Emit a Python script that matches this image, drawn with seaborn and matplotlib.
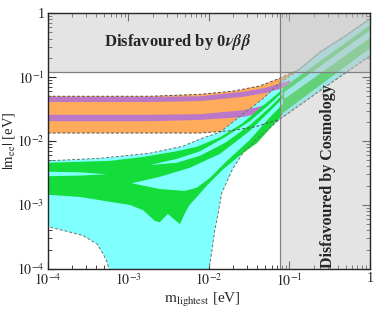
import numpy as np
import matplotlib
matplotlib.use("Agg")
import matplotlib.pyplot as plt
import seaborn as sns

# all region boundaries are log10 values
# x = log10(m_lightest / eV), y = log10(|m_ee| / eV)
cosmo_bound = 0.077
dbd_bound = 0.12

# normal ordering, 3 sigma (cyan)
no_up_x = [-4.0, -3.35, -2.73, -2.32, -2.11, -1.86, -1.64, -1.33, -1.12, -0.87, -0.62, -0.31, 0.0]
no_up_y = [-2.31, -2.27, -2.19, -2.08, -1.97, -1.86, -1.64, -1.34, -1.09, -0.875, -0.61, -0.36, -0.09]
no_lo_right_x = [0.0, -0.56, -1.12, -1.39, -1.58, -1.71, -1.84, -1.89, -1.93, -1.96, -2.0, -2.0]
no_lo_right_y = [-0.67, -1.16, -1.66, -1.95, -2.19, -2.45, -2.81, -3.16, -3.42, -3.70, -4.0, -4.5]
no_lo_left_x = [-3.24, -3.24, -3.27, -3.32, -3.39, -3.56, -3.77, -4.0]
no_lo_left_y = [-4.5, -4.0, -3.875, -3.75, -3.61, -3.48, -3.41, -3.34]

# inverted ordering, 3 sigma (orange)
io_up_x = [-4.0, -2.73, -2.11, -1.70, -1.37, -1.12, -0.87, -0.62, -0.31, 0.0]
io_up_y = [-1.30, -1.30, -1.27, -1.22, -1.14, -1.02, -0.875, -0.61, -0.36, -0.09]
io_lo_x = [-4.0, -2.11, -1.74, -1.43, -1.12, -0.56, 0.0]
io_lo_y = [-1.875, -1.875, -1.84, -1.78, -1.66, -1.16, -0.67]

# inverted ordering, purple bands
pb_x = [-4.0, -2.73, -2.11, -1.58, -1.30, -0.99]
pb1_top = [-1.31, -1.31, -1.30, -1.23, -1.17, -1.05]
pb1_bot = [-1.39, -1.39, -1.375, -1.31, -1.25, -1.14]
pb2_top = [-1.59, -1.59, -1.58, -1.52, -1.44, -1.30]
pb2_bot = [-1.69, -1.69, -1.67, -1.625, -1.55, -1.42]

# normal ordering, green region
gr_up_x = [-4.0, -3.23, -2.82, -2.40, -2.15, -1.86, -1.58, -1.33, -1.06]
gr_up_y = [-2.34, -2.31, -2.25, -2.16, -2.09, -1.94, -1.72, -1.45, -1.17]
gr_lo_x = [-1.08, -1.40, -1.61, -1.83, -2.02, -2.15, -2.24, -2.29, -2.36, -2.51, -2.61, -2.67, -2.82, -2.98, -3.23, -3.60, -4.0]
gr_lo_y = [-1.58, -2.03, -2.22, -2.45, -2.69, -2.875, -3.00, -3.11, -3.30, -3.14, -3.27, -3.25, -3.08, -3.00, -2.95, -2.875, -2.84]
# cyan gaps inside the green region
gap1_x = [-4.0, -3.60, -3.27, -3.60, -4.0]
gap1_y = [-2.48, -2.49, -2.52, -2.54, -2.55]
gap2_x = [-2.96, -2.61, -2.24, -1.86, -1.49, -1.24, -1.08,
          -1.08, -1.24, -1.49, -1.80, -1.99, -2.15, -2.30, -2.61]
gap2_y = [-2.66, -2.56, -2.42, -2.20, -1.84, -1.53, -1.33,
          -1.42, -1.625, -1.98, -2.34, -2.58, -2.73, -2.78, -2.75]
gap3_x = [-2.73, -2.40, -2.11, -1.80, -1.49, -1.24, -1.08,
          -1.08, -1.24, -1.49, -1.80, -2.11, -2.40]
gap3_y = [-2.375, -2.28, -2.16, -1.94, -1.69, -1.42, -1.23,
          -1.27, -1.47, -1.75, -2.03, -2.23, -2.34]
# green strands at large masses
hs_x = [-1.08, 0.0]
hs1_top = [-1.17, -0.19]
hs1_bot = [-1.25, -0.27]
hs2_top = [-1.36, -0.39]
hs2_bot = [-1.56, -0.55]

decades = [1e-4, 1e-3, 1e-2, 1e-1, 1]
tick_labels = [r'$10^{-4}$', r'$10^{-3}$', r'$10^{-2}$', r'$10^{-1}$', '1']

c_cyan = '#80ffff'
c_green = '#14dc3a'
c_orange = '#ffab5c'
c_purple = '#bc78c8'
c_gray = '#c4c4c4'

sns.set_style("ticks")
plt.rcParams['font.family'] = ['Liberation Serif', 'DejaVu Serif']
plt.rcParams['mathtext.fontset'] = 'stix'


def lin(a):
    return 10 ** np.asarray(a, dtype=float)


def band(x, top, bot):
    return np.r_[lin(x), lin(x)[::-1]], np.r_[lin(top), lin(bot)[::-1]]


fig = plt.figure(figsize=(3.74, 3.12), dpi=100)
ax = fig.add_axes([0.128, 0.138, 0.861, 0.820])
ax.set_xscale('log')
ax.set_yscale('log')

# inverted ordering
px, py = np.r_[lin(io_up_x), lin(io_lo_x)[::-1]], np.r_[lin(io_up_y), lin(io_lo_y)[::-1]]
ax.fill(px, py, color=c_orange, lw=0, zorder=1)

# normal ordering
px = np.r_[lin(no_up_x), lin(no_lo_right_x), lin(no_lo_left_x)]
py = np.r_[lin(no_up_y), lin(no_lo_right_y), lin(no_lo_left_y)]
ax.fill(px, py, color=c_cyan, lw=0, zorder=2)

for top, bot in [(pb1_top, pb1_bot), (pb2_top, pb2_bot)]:
    bx, by = band(pb_x, top, bot)
    ax.fill(bx, by, color=c_purple, lw=0, zorder=3)

px, py = np.r_[lin(gr_up_x), lin(gr_lo_x)], np.r_[lin(gr_up_y), lin(gr_lo_y)]
ax.fill(px, py, color=c_green, lw=0, zorder=4)
for gx, gy in [(gap1_x, gap1_y), (gap2_x, gap2_y), (gap3_x, gap3_y)]:
    ax.fill(lin(gx), lin(gy), color=c_cyan, lw=0, zorder=5)
for top, bot in [(hs1_top, hs1_bot), (hs2_top, hs2_bot)]:
    bx, by = band(hs_x, top, bot)
    ax.fill(bx, by, color=c_green, lw=0, zorder=5)

# dashed outlines
for xs, ys, col in [(no_up_x, no_up_y, '#707070'),
                    (no_lo_right_x, no_lo_right_y, '#707070'),
                    (no_lo_left_x, no_lo_left_y, '#707070'),
                    (io_up_x, io_up_y, '#505050'),
                    (io_lo_x, io_lo_y, '#505050')]:
    sns.lineplot(x=lin(xs), y=lin(ys), ax=ax, color=col, lw=0.7,
                 linestyle=(0, (3, 2)), sort=False, estimator=None, zorder=6)

# disfavoured regions
ax.axhspan(dbd_bound, 1, color=c_gray, alpha=0.45, lw=0, zorder=7)
ax.axvspan(cosmo_bound, 1, color=c_gray, alpha=0.45, lw=0, zorder=7)
ax.axhline(dbd_bound, color='#808080', lw=0.9, zorder=8)
ax.axvline(cosmo_bound, color='#808080', lw=0.9, zorder=8)

ax.text(0.0041, 0.35, r'Disfavoured by 0$\boldsymbol{\nu\beta\beta}$', ha='center', va='center',
        fontsize=12, fontweight='bold', zorder=9)
ax.text(0.30, 0.0028, 'Disfavoured by Cosmology', rotation=90, ha='center', va='center',
        fontsize=11.5, fontweight='bold', zorder=9)

ax.set_xlim(1e-4, 1)
ax.set_ylim(1e-4, 1)
ax.set_xticks(decades)
ax.set_xticklabels(tick_labels)
ax.set_yticks(decades)
ax.set_yticklabels(tick_labels)
ax.tick_params(which='both', direction='in', top=True, right=True, labelsize=10, zorder=10)
ax.tick_params(which='major', length=6, width=0.8, pad=2.5)
ax.tick_params(which='minor', length=3, width=0.6)
for s in ax.spines.values():
    s.set_linewidth(1.0)
    s.set_zorder(10)

ax.set_xlabel(r'$\mathrm{m}_{\mathrm{lightest}}$ [eV]', fontsize=11)
ax.set_ylabel(r'$|\mathrm{m}_{\mathrm{ee}}|$ [eV]', fontsize=10.5)
ax.xaxis.set_label_coords(0.48, -0.085)
ax.yaxis.set_label_coords(-0.095, 0.5)

fig.savefig('out.png', dpi=100)
